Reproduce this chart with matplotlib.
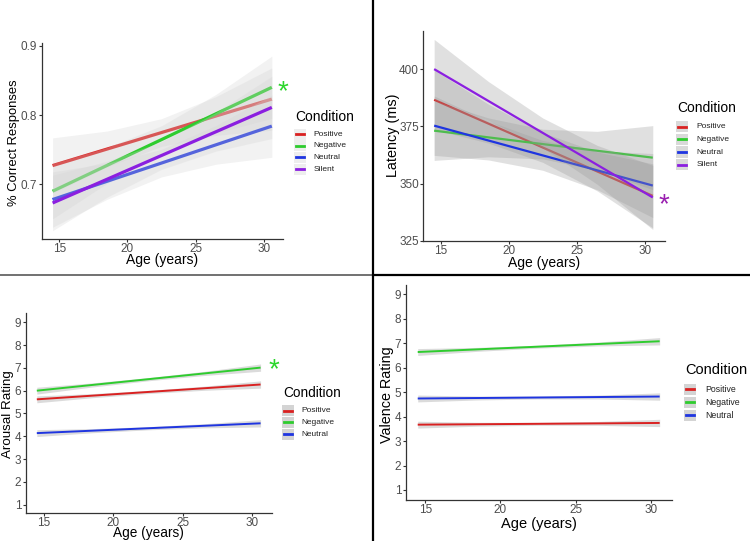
import numpy as np
import matplotlib
matplotlib.use('Agg')
import matplotlib.pyplot as plt
from matplotlib.lines import Line2D
from matplotlib.patches import Rectangle

plt.rcParams['font.family'] = ['Liberation Sans', 'DejaVu Sans']

# fitted lines: value at youngest and oldest age
age_ends = [14.5, 30.6]
ci_ages = [14.5, 18.5, 22.5, 26.5, 30.6]

acc_labels = ['Positive', 'Negative', 'Neutral', 'Silent']
acc_ends = {'Positive': [0.727, 0.823], 'Negative': [0.690, 0.840],
            'Neutral': [0.678, 0.784], 'Silent': [0.673, 0.811]}
acc_ci = [0.040, 0.026, 0.020, 0.028, 0.045]

lat_labels = ['Positive', 'Negative', 'Neutral', 'Silent']
lat_ends = {'Positive': [386.6, 344.6], 'Negative': [373.1, 361.3],
            'Neutral': [375.3, 349.1], 'Silent': [400.0, 343.9]}
lat_ci = [13.0, 8.5, 6.5, 8.5, 14.0]

aro_labels = ['Positive', 'Negative', 'Neutral']
aro_ends = {'Positive': [5.62, 6.27], 'Negative': [6.00, 7.01], 'Neutral': [4.14, 4.57]}
aro_ci = [0.15, 0.09, 0.07, 0.09, 0.16]

val_labels = ['Positive', 'Negative', 'Neutral']
val_ends = {'Positive': [3.67, 3.74], 'Negative': [6.64, 7.08], 'Neutral': [4.74, 4.82]}
val_ci = [0.14, 0.08, 0.06, 0.08, 0.15]

W, H = 750, 541
fig = plt.figure(figsize=(7.5, 5.41), dpi=100)


def fx(px):
    return px / W


def fy(py):
    return 1 - py / H


def make_ax(left, top, right, bottom, xlim, ylim, yticks):
    ax = fig.add_axes([fx(left), fy(bottom), fx(right - left), (bottom - top) / H])
    ax.set_xlim(*xlim)
    ax.set_ylim(*ylim)
    ax.set_xticks([15, 20, 25, 30])
    ax.set_yticks(yticks)
    for s in ['top', 'right']:
        ax.spines[s].set_visible(False)
    for s in ['left', 'bottom']:
        ax.spines[s].set_color('#333333')
        ax.spines[s].set_linewidth(0.9)
    ax.tick_params(colors='#333333', labelcolor='#4D4D4D', labelsize=8.5,
                   length=2.2, width=0.8, pad=1)
    ax.patch.set_alpha(0)
    return ax


def draw(ax, labels, ends, ci, colors, lw, rib_color, rib_alpha):
    # ribbon then line for each group, so later ribbons veil earlier lines
    for i, lab in enumerate(labels):
        lo, hi = ends[lab]
        center = np.interp(ci_ages, age_ends, [lo, hi])
        ax.fill_between(ci_ages, center - np.array(ci), center + np.array(ci),
                        color=rib_color, alpha=rib_alpha, lw=0, zorder=1 + 2 * i)
        ax.plot(age_ends, ends[lab], color=colors[lab], lw=lw, solid_capstyle='butt',
                zorder=2 + 2 * i)


def legend(x, ty, rows, labels, colors, fs_title, fs_lab, keybg, keyw=10, textx=None):
    fig.text(fx(x), fy(ty), 'Condition', fontsize=fs_title, ha='left', va='center')
    for yy, lab in zip(rows, labels):
        fig.add_artist(Rectangle((fx(x - 1), fy(yy + 5.5)), fx(keyw + 2), 11 / H,
                                 transform=fig.transFigure, color=keybg, lw=0))
        fig.add_artist(Line2D([fx(x + 1), fx(x + keyw - 1)], [fy(yy), fy(yy)],
                              transform=fig.transFigure, color=colors[lab], lw=2))
        fig.text(fx(textx), fy(yy), lab, fontsize=fs_lab, ha='left', va='center',
                 color='#222222')


colors = {'Positive': '#D92121', 'Negative': '#2ECC2E', 'Neutral': '#1F35E0', 'Silent': '#8B1FE0'}

# ---- top left: accuracy
ax1 = make_ax(41.7, 43, 282.7, 239, (13.7, 31.4), (0.621, 0.904), [0.7, 0.8, 0.9])
draw(ax1, acc_labels, acc_ends, acc_ci, colors, 2.3, '#d4d4d4', 0.3)
fig.text(fx(14.5), fy(143), '% Correct Responses', rotation=90, fontsize=9.4, ha='center', va='center')
fig.text(fx(162), fy(260), 'Age (years)', fontsize=10, ha='center', va='center')
fig.text(fx(283), fy(92.5), '*', fontsize=20, color='#2BD62B', ha='center', va='center')
legend(295, 117.3, [134.3, 145.7, 157.3, 169.3], acc_labels, colors,
       10, 6, '#eeeeee', textx=313.3)

# ---- top right: latency
ax2 = make_ax(423.3, 30.7, 665, 240.7, (13.7, 31.5), (325, 416.8), [325, 350, 375, 400])
draw(ax2, lat_labels, lat_ends, lat_ci, colors, 1.6, '#9a9a9a', 0.3)
fig.text(fx(393.5), fy(135), 'Latency (ms)', rotation=90, fontsize=10.4, ha='center', va='center')
fig.text(fx(544), fy(263), 'Age (years)', fontsize=10, ha='center', va='center')
fig.text(fx(664), fy(205), '*', fontsize=20, color='#9A1FB0', ha='center', va='center')
legend(677.3, 108.3, [126.7, 139.3, 152, 164.7], lat_labels, colors,
       10, 6, '#d9d9d9', textx=696.7)

# ---- bottom left: arousal
ax3 = make_ax(25.7, 313.3, 271.7, 513, (13.7, 31.4), (0.64, 9.39), list(range(1, 10)))
draw(ax3, aro_labels, aro_ends, aro_ci, colors, 1.4, '#999999', 0.35)
fig.text(fx(8), fy(414), 'Arousal Rating', rotation=90, fontsize=9.6, ha='center', va='center')
fig.text(fx(148), fy(533), 'Age (years)', fontsize=9.8, ha='center', va='center')
fig.text(fx(274), fy(370.5), '*', fontsize=20, color='#2BD62B', ha='center', va='center')
legend(283.3, 392.7, [410.7, 422.3, 434], aro_labels, colors, 9.8, 6, '#d4d4d4', textx=301.7)

# ---- bottom right: valence
ax4 = make_ax(405.7, 285, 671.7, 500, (13.7, 31.4), (0.59, 9.38), list(range(1, 10)))
draw(ax4, val_labels, val_ends, val_ci, colors, 1.4, '#999999', 0.35)
fig.text(fx(386.5), fy(395), 'Valence Rating', rotation=90, fontsize=10.4, ha='center', va='center')
fig.text(fx(539), fy(524), 'Age (years)', fontsize=10.5, ha='center', va='center')
legend(685, 370, [389, 402.3, 415.3], val_labels, colors, 10.5, 6.3, '#d4d4d4', textx=705)

# panel separators
fig.add_artist(Line2D([fx(372.7), fx(372.7)], [0, 1], transform=fig.transFigure,
                      color='black', lw=1.6))
fig.add_artist(Line2D([0, fx(372.7)], [fy(275.3), fy(275.3)], transform=fig.transFigure,
                      color='#666666', lw=1.3))
fig.add_artist(Line2D([fx(372.7), 1], [fy(275.3), fy(275.3)], transform=fig.transFigure,
                      color='black', lw=1.6))

fig.savefig('out.png', dpi=100)
